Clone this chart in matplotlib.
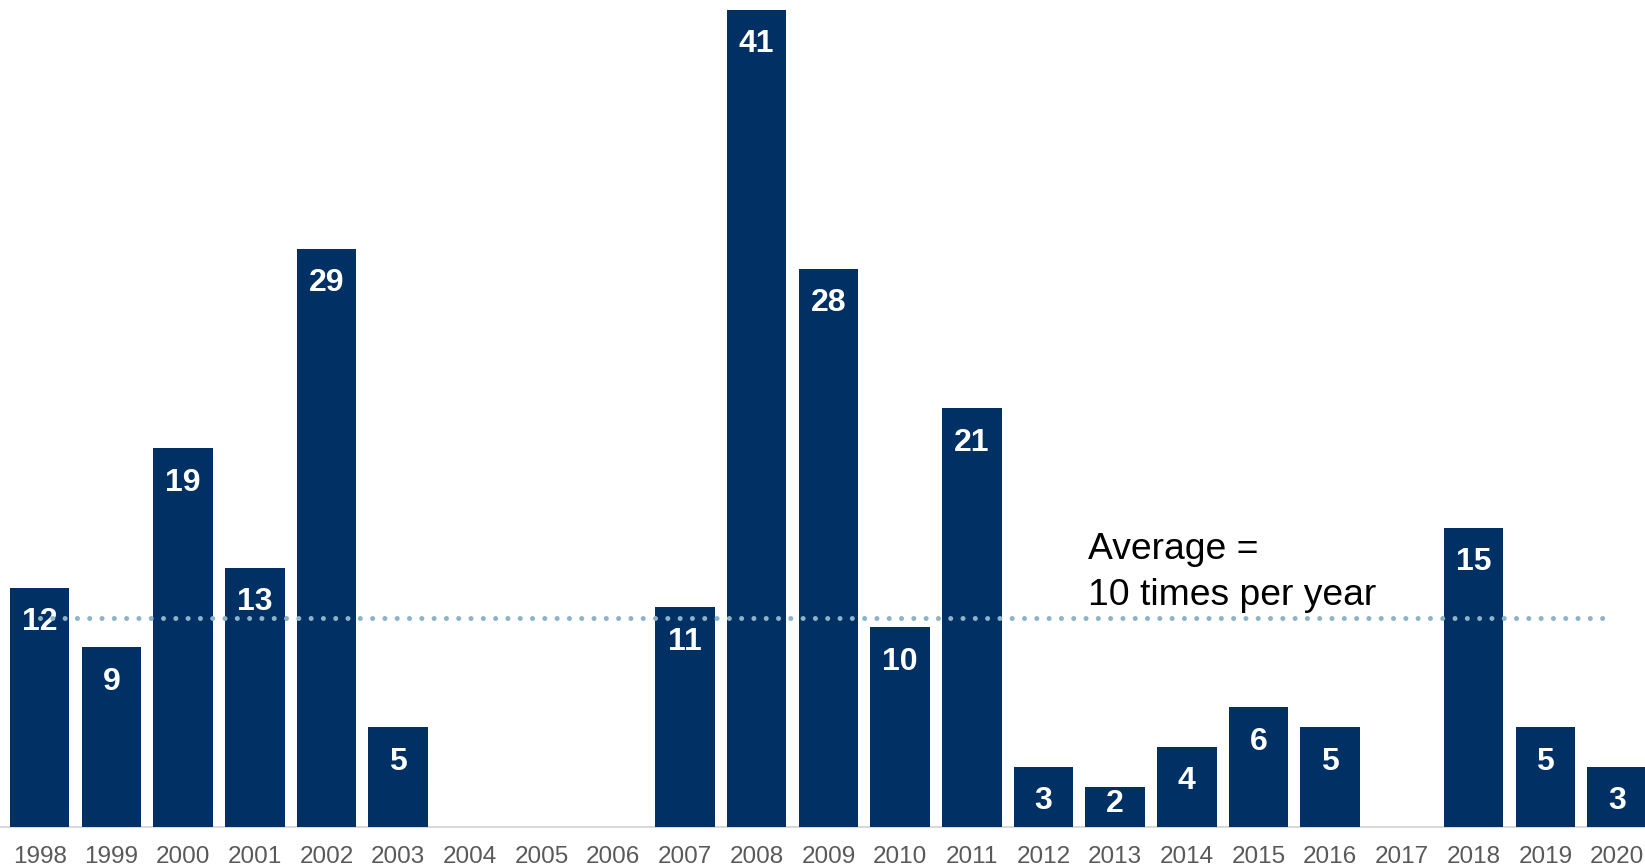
import matplotlib.pyplot as plt
import numpy as np

years = [str(y) for y in range(1998, 2021)]
counts = [12, 9, 19, 13, 29, 5, 0, 0, 0, 11, 41, 28, 10, 21, 3, 2, 4, 6, 5, 0, 15, 5, 3]
average = sum(counts) / len(counts)
note = "Average =\n10 times per year"

plt.rcParams["font.family"] = ["Liberation Sans", "DejaVu Sans"]

fig = plt.figure(figsize=(16.45, 8.66), dpi=100)
ax = fig.add_axes([0, 39.3 / 866, 1, 826.7 / 866])

x = np.arange(len(years))
bars = ax.bar(x, counts, width=0.83, color="#003064", zorder=2)

# labels sit just inside the bar end, but never below the baseline
for xi, v in zip(x, counts):
    if v > 0:
        ax.text(xi, max(v - 1.73, 1.14), str(v), ha="center", va="center",
                color="white", fontsize=23, fontweight="bold", zorder=3)

# average line, drawn on top of the labels
ax.plot([0, 21.95], [average, average], color="#8db3c7", linewidth=3.6,
        dashes=[0.01, 2.45], dash_capstyle="round", zorder=4)
ax.text(14.62, 14.78, note, fontsize=26.8, color="black", ha="left", va="top",
        linespacing=1.4)

ax.set_xlim(-0.554, 22.39)
ax.set_ylim(0, 41.48)
ax.set_xticks(x)
ax.set_xticklabels(years, fontsize=17.5, color="#595959")
ax.tick_params(axis="x", length=0, pad=14)
ax.set_yticks([])
for side in ["top", "right", "left"]:
    ax.spines[side].set_visible(False)
ax.spines["bottom"].set_color("#d9d9d9")
ax.spines["bottom"].set_linewidth(1.5)
ax.spines["bottom"].set_zorder(1)

fig.savefig("out.png", dpi=100)
